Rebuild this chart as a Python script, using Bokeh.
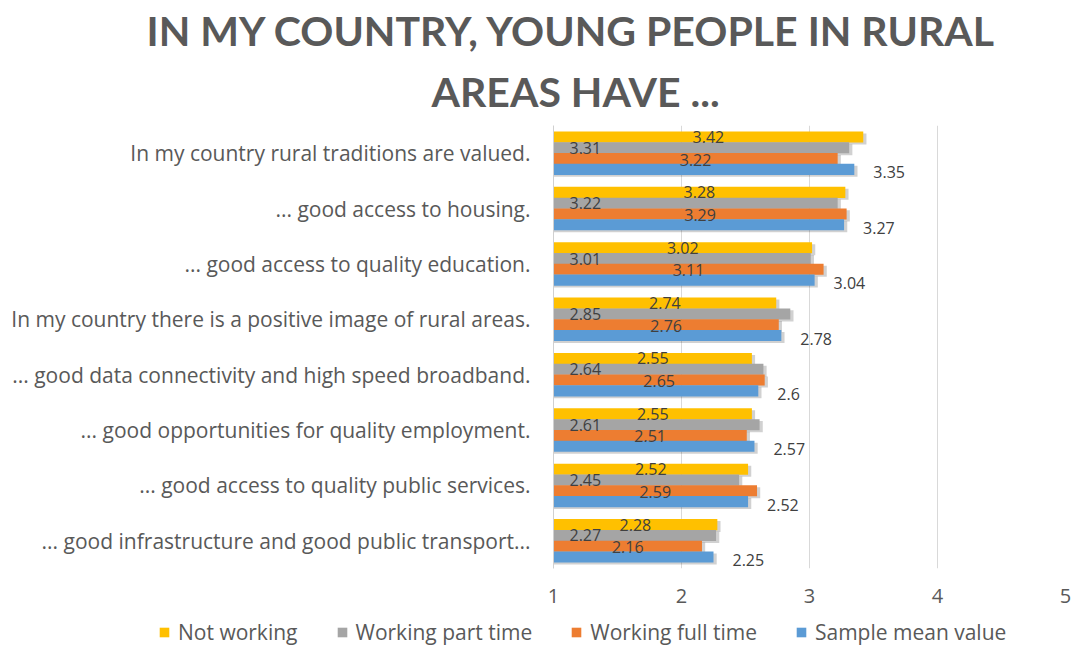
from bokeh.plotting import figure
from bokeh.layouts import column
from bokeh.models import ColumnDataSource, Range1d, FactorRange, FixedTicker, Legend, LegendItem, Title
from bokeh.transform import dodge
from bokeh.core.properties import value
from bokeh.embed import file_html
from bokeh.resources import INLINE

categories = [
    "In my country rural traditions are valued.",
    "... good access to housing.",
    "... good access to quality education.",
    "In my country there is a positive image of rural areas.",
    "... good data connectivity and high speed broadband.",
    "... good opportunities for quality employment.",
    "... good access to quality public services.",
    "... good infrastructure and good public transport...",
]
not_working = [3.42, 3.28, 3.02, 2.74, 2.55, 2.55, 2.52, 2.28]
part_time = [3.31, 3.22, 3.01, 2.85, 2.64, 2.61, 2.45, 2.27]
full_time = [3.22, 3.29, 3.11, 2.76, 2.65, 2.51, 2.59, 2.16]
sample_mean = [3.35, 3.27, 3.04, 2.78, 2.6, 2.57, 2.52, 2.25]
series_names = ["Not working", "Working part time", "Working full time", "Sample mean value"]
tick_values = [1, 2, 3, 4, 5]
title_lines = ["IN MY COUNTRY, YOUNG PEOPLE IN RURAL", "AREAS HAVE ..."]

colors = ["#FFC000", "#A5A5A5", "#ED7D31", "#5B9BD5"]
TFONT = "Lato"
FONT = "Open Sans"
TXT = "#595959"
LBL = "#404040"

x0 = tick_values[0]
src = ColumnDataSource(dict(
    cat=categories,
    nw=not_working, pt=part_time, ft=full_time, sm=sample_mean,
    nw_s=[str(v) for v in not_working],
    pt_s=[str(v) for v in part_time],
    ft_s=[str(v) for v in full_time],
    sm_s=[str(v) for v in sample_mean],
    nw_c=[(x0 + v) / 2 for v in not_working],
    ft_c=[(x0 + v) / 2 for v in full_time],
    base=[x0] * len(categories),
))

W, H, LH = 1084, 610, 36
p = figure(width=W, height=H,
           x_range=Range1d(tick_values[0], tick_values[-1]),
           y_range=FactorRange(factors=categories[::-1]),
           output_backend="svg", toolbar_location=None,
           min_border_left=553, min_border_right=W - 1065,
           min_border_top=125, min_border_bottom=H - 568)
p.frame_align = False
p.outline_line_color = None
p.background_fill_color = "white"

offsets = [0.2925, 0.0975, -0.0975, -0.2925]
cols = ["nw", "pt", "ft", "sm"]
bar_h = 0.2
# soft 3D-like shadows
for off, c in zip(offsets, cols):
    p.hbar(y=dodge("cat", off - 0.035, range=p.y_range), left=x0, right=dodge(c, 0.025),
           height=bar_h, source=src, fill_color="#000000", fill_alpha=0.18, line_color=None)
for off, c, col in zip(offsets, cols, colors):
    p.hbar(y=dodge("cat", off, range=p.y_range), left=x0, right=c, height=bar_h,
           source=src, fill_color=col, line_color=None)

common = dict(source=src, text_font=value(FONT), text_font_size="16px", text_color=LBL,
              text_baseline="middle")
p.text(x="nw_c", y=dodge("cat", offsets[0], range=p.y_range), text="nw_s", text_align="center", **common)
p.text(x="base", y=dodge("cat", offsets[1], range=p.y_range), text="pt_s", text_align="left",
       x_offset=16, **common)
p.text(x="ft_c", y=dodge("cat", offsets[2], range=p.y_range), text="ft_s", text_align="center",
       y_offset=1, **common)
p.text(x="sm", y=dodge("cat", offsets[3], range=p.y_range), text="sm_s", text_align="left",
       x_offset=19, y_offset=3, **common)

p.xgrid.ticker = FixedTicker(ticks=tick_values)
p.xgrid.grid_line_color = "#D9D9D9"
p.ygrid.grid_line_color = None

xa = p.xaxis[0]
xa.ticker = FixedTicker(ticks=tick_values)
xa.axis_line_color = None
xa.major_tick_line_color = None
xa.minor_tick_line_color = None
xa.major_label_text_font = FONT
xa.major_label_text_font_size = "20px"
xa.major_label_text_color = TXT
xa.major_label_standoff = 14

ya = p.yaxis[0]
ya.axis_line_color = "#D0D0D0"
ya.major_tick_line_color = None
ya.minor_tick_line_color = None
ya.major_label_text_font = FONT
ya.major_label_text_font_size = "21px"
ya.major_label_text_color = TXT
ya.major_label_standoff = 17

title_offsets = [-407, -122]
title_standoffs = [0, 20]
for line, off, so in list(zip(title_lines, title_offsets, title_standoffs))[::-1]:
    p.add_layout(Title(text=line, text_font=TFONT, text_font_style="bold", text_font_size="41px",
                       text_color=TXT, align="left", offset=off, standoff=so), "above")

# legend strip below the chart
lf = figure(width=W, height=LH, x_range=Range1d(0, 1), y_range=Range1d(0, 1),
            output_backend="svg", toolbar_location=None,
            x_axis_location=None, y_axis_location=None,
            min_border_left=0, min_border_right=0, min_border_top=0, min_border_bottom=0)
lf.frame_align = False
lf.outline_line_color = None
lf.xgrid.grid_line_color = None
lf.ygrid.grid_line_color = None
# legend swatches: one hidden row each, kept outside the visible range
swatch = ColumnDataSource(dict(y=[-5], right=[-5]))
leg_r = [lf.hbar(y="y", left=-6, right="right", height=0.5, source=swatch, fill_color=col, line_color=None)
         for col in colors]
items = [LegendItem(label=n, renderers=[r]) for n, r in zip(series_names, leg_r)]
legend = Legend(items=items, orientation="horizontal", location=(158, 0),
                glyph_width=12, glyph_height=12, label_standoff=8, spacing=38,
                padding=0, margin=0, border_line_color=None, background_fill_alpha=0,
                label_text_font=FONT, label_text_font_size="21px", label_text_color=TXT)
lf.add_layout(legend)

layout = column(p, lf, spacing=0)
open("out.html", "w").write(file_html(layout, INLINE))
